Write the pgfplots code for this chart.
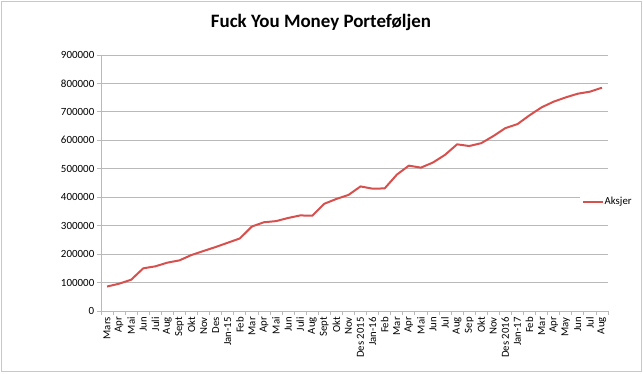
\documentclass[border=0pt]{standalone}
\usepackage{fontspec}
\setmainfont{Carlito}
\usepackage{pgfplots}
\pgfplotsset{compat=1.18}
\definecolor{linered}{RGB}{214,80,78}
\definecolor{gridgray}{RGB}{185,185,185}
\begin{document}
\begin{tikzpicture}
\useasboundingbox (0,0) rectangle (643bp,374bp);
\draw[color={rgb,255:red,200;green,200;blue,200}, line width=0.8bp] (1bp,3bp) rectangle (641bp,373bp);
\node[font=\fontsize{19}{22}\selectfont\bfseries] at (321bp,352bp) {Fuck You Money Porteføljen};
\begin{axis}[
  at={(101bp,63bp)}, anchor=south west,
  scale only axis, width=507bp, height=256bp,
  xmin=-0.5, xmax=41.5, ymin=0, ymax=900000,
  ytick={0,100000,200000,300000,400000,500000,600000,700000,800000,900000},
  scaled y ticks=false,
  /pgf/number format/fixed,
  /pgf/number format/1000 sep={},
  /pgf/number format/assume math mode=true,
  ymajorgrids,
  grid style={gridgray, line width=0.8bp},
  axis x line*=bottom, axis y line*=left,
  axis line style={gridgray, line width=0.8bp, -},
  tick style={gridgray, line width=0.8bp},
  tick align=outside,
  major tick length=4bp,
  xtick={-0.5,0.5,...,41.5},
  x tick label as interval,
  xticklabels={Mars,Apr,Mai,Jun,Juli,Aug,Sept,Okt,Nov,Des,Jan-15,Feb,Mar,Apr,Mai,Jun,Juli,Aug,Sept,Okt,Nov,Des 2015,Jan-16,Feb,Mar,Apr,Mai,Jun,Jul,Aug,Sep,Okt,Nov,Des 2016,Jan-17,Feb,Mar,Apr,May,Jun,Jul,Aug},
  xticklabel style={rotate=90, anchor=east, font=\fontsize{10.8}{12}\selectfont, inner sep=2bp},
  yticklabel style={font=\fontsize{11}{12}\selectfont, inner sep=2.5bp},
  legend style={at={(0.9448,0.4258)}, anchor=west, draw=none, fill=white,
    font=\fontsize{10.8}{12}\selectfont, inner xsep=2bp, inner ysep=2bp,
    nodes={inner sep=0.5bp}},
  legend image code/.code={\draw[#1] (0bp,0bp) -- (20bp,0bp);},
  legend cell align=left,
]
\addplot[linered, line width=2bp, line join=round] table[x=i, y=v] {
i v
0 86000
1 96000
2 110000
3 150000
4 157000
5 170000
6 178000
7 197000
8 211000
9 225000
10 240000
11 255000
12 297000
13 312000
14 316000
15 327000
16 336000
17 335000
18 377000
19 394000
20 408000
21 438000
22 430000
23 431000
24 479000
25 511000
26 504000
27 522000
28 549000
29 586000
30 580000
31 590000
32 615000
33 643000
34 657000
35 688000
36 716000
37 736000
38 751000
39 764000
40 771000
41 785000
};
\addlegendentry{Aksjer}
\end{axis}
\end{tikzpicture}
\end{document}
